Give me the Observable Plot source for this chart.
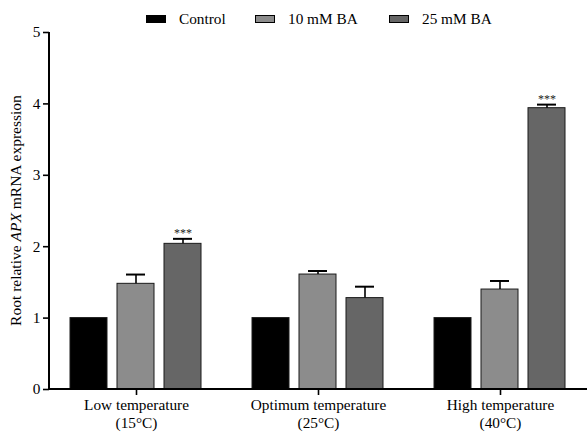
<!DOCTYPE html>
<html><head><meta charset="utf-8">
<script src="https://cdn.jsdelivr.net/npm/d3@7"></script>
<script src="https://cdn.jsdelivr.net/npm/@observablehq/plot@0.6"></script>
<style>
body{margin:0;background:#fff;font-family:"Liberation Serif","Times New Roman",serif;}
#legend{position:relative;z-index:1;width:587px;height:14px;font-size:15.3px;color:#000;line-height:1}
.item{position:absolute;top:11px;display:flex;align-items:center;white-space:nowrap}
.sw{width:20px;height:8px;border:1px solid #000;box-sizing:border-box;margin-right:13px}
</style></head><body>
<div id="legend"></div><div id="chart"></div>
<script>
const categories = ["Low temperature\n(15°C)", "Optimum temperature\n(25°C)", "High temperature\n(40°C)"];
const series = ["Control", "10 mM BA", "25 mM BA"];
const controlValues = [1, 1, 1];
const ba10Values = [1.48, 1.61, 1.40];
const ba25Values = [2.04, 1.28, 3.94];
const controlErr = [0, 0, 0];
const ba10Err = [0.13, 0.05, 0.12];
const ba25Err = [0.07, 0.16, 0.05];
const ba25Sig = ["***", "", "***"];
const colors = ["#000000", "#8c8c8c", "#666666"];
const yTicks = [0, 1, 2, 3, 4, 5];
const legendLeft = [146, 255, 389];

const valueSets = [controlValues, ba10Values, ba25Values];
const errSets = [controlErr, ba10Err, ba25Err];
const sigSets = [["", "", ""], ["", "", ""], ba25Sig];
const data = [];
categories.forEach((c, i) => series.forEach((s, j) => {
  data.push({cat: c, series: s, value: valueSets[j][i], err: errSets[j][i], sig: sigSets[j][i]});
}));
const withErr = data.filter(d => d.err > 0);
const withSig = data.filter(d => d.sig);

// legend
const lg = d3.select("#legend");
series.forEach((s, j) => {
  const it = lg.append("div").attr("class", "item").style("left", legendLeft[j] + "px");
  it.append("div").attr("class", "sw").style("background", colors[j]);
  it.append("span").text(s);
});

const plot = Plot.plot({
  width: 587,
  height: 423,
  marginTop: 18,
  marginBottom: 48,
  marginLeft: 49,
  marginRight: 0,
  style: {fontFamily: "Liberation Serif, Times New Roman, serif", fontSize: "15.3px", color: "#000", background: "transparent"},
  fx: {domain: categories, paddingInner: 0.044, paddingOuter: 0, label: null},
  x: {domain: series, paddingInner: 0.208, paddingOuter: 0.4167, axis: null},
  y: {domain: [0, 5], label: null},
  color: {domain: series, range: colors},
  marks: [
    Plot.axisY({ticks: yTicks, tickFormat: d3.format("d"), tickSize: 6, tickPadding: 3, strokeWidth: 1.6, fontSize: 15.3, label: null}),
    Plot.axisFx({anchor: "bottom", tickSize: 6, tickPadding: 1, strokeWidth: 1.6, fontSize: 15.3, lineHeight: 1.2, label: null}),
    Plot.barY(data, {fx: "cat", x: "series", y: "value", fill: "series", stroke: "#1a1a1a", strokeWidth: 1}),
    Plot.ruleX(withErr, {fx: "cat", x: "series", y1: "value", y2: d => d.value + d.err, stroke: "#000", strokeWidth: 1.6}),
    Plot.tickY(withErr, {fx: "cat", x: "series", y: d => d.value + d.err, stroke: "#000", strokeWidth: 2, insetLeft: 9, insetRight: 9}),
    Plot.text(withSig, {fx: "cat", x: "series", y: d => d.value + d.err, text: "sig", lineAnchor: "bottom", dy: -2, fontSize: 12, fill: "#222"})
  ]
});
document.getElementById("chart").appendChild(plot);

// axis lines and rich y label
const ys = plot.scale("y");
const svg = d3.select(plot);
const y0 = ys.apply(0), y5 = ys.apply(5);
svg.append("line").attr("x1", 49).attr("x2", 587).attr("y1", y0).attr("y2", y0).attr("stroke", "#000").attr("stroke-width", 2);
svg.append("line").attr("x1", 49).attr("x2", 49).attr("y1", y0 + 1).attr("y2", y5).attr("stroke", "#000").attr("stroke-width", 2);
const lab = svg.append("text")
  .attr("transform", `translate(21,${(y0 + y5) / 2}) rotate(-90)`)
  .attr("text-anchor", "middle").attr("font-size", 15.5).attr("fill", "#000");
lab.append("tspan").text("Root relative ");
lab.append("tspan").attr("font-style", "italic").text("APX");
lab.append("tspan").text(" mRNA expression");
</script>
</body></html>
